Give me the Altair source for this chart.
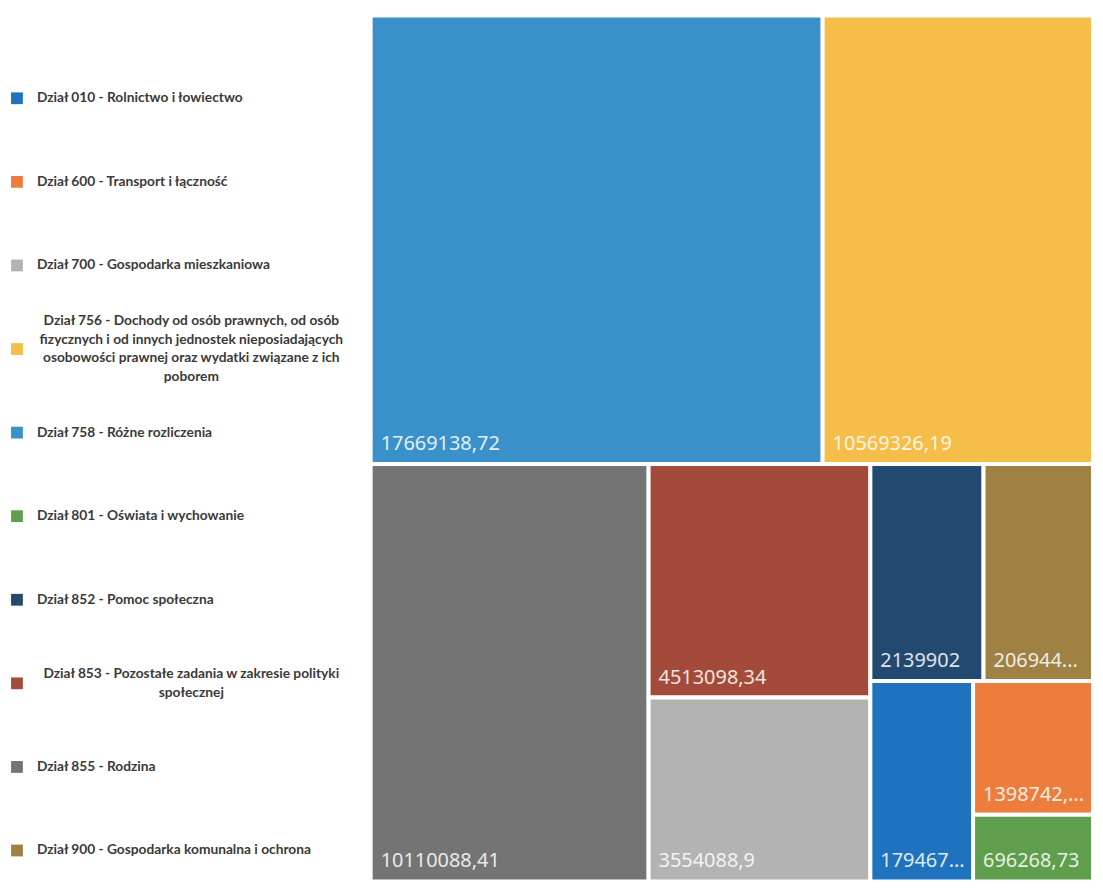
import altair as alt
import pandas as pd

# ---------------- data ----------------
codes = ["010", "600", "700", "756", "758", "801", "852", "853", "855", "900"]
legend_labels = [
    "Dział 010 - Rolnictwo i łowiectwo",
    "Dział 600 - Transport i łączność",
    "Dział 700 - Gospodarka mieszkaniowa",
    "Dział 756 - Dochody od osób prawnych, od osób\nfizycznych i od innych jednostek nieposiadających\nosobowości prawnej oraz wydatki związane z ich\npoborem",
    "Dział 758 - Różne rozliczenia",
    "Dział 801 - Oświata i wychowanie",
    "Dział 852 - Pomoc społeczna",
    "Dział 853 - Pozostałe zadania w zakresie polityki\nspołecznej",
    "Dział 855 - Rodzina",
    "Dział 900 - Gospodarka komunalna i ochrona",
]
values = [1794670.0, 1398742.5, 3554088.9, 10569326.19, 17669138.72,
          696268.73, 2139902.0, 4513098.34, 10110088.41, 2069440.0]
tile_labels = ["179467...", "1398742,...", "3554088,9", "10569326,19", "17669138,72",
               "696268,73", "2139902", "4513098,34", "10110088,41", "206944..."]
colors = ["#1F72BE", "#EC7D3D", "#B3B3B3", "#F5BE48", "#3A91CA",
          "#5F9E4C", "#22496F", "#A44A3A", "#747474", "#9E8143"]

# ---------------- panel sizes ----------------
LEG_W = 362
TM_W = 725
TM_H = 869
LINE_H = 19


# ---------------- squarified treemap layout ----------------
def worst(row, short):
    s = sum(row)
    return max(max(short * short * r / (s * s), (s * s) / (short * short * r)) for r in row)


def squarify(vals, x, y, w, h):
    total = sum(vals)
    areas = [v * w * h / total for v in vals]
    rects = []
    i = 0
    while i < len(areas):
        short = min(w, h)
        row = [areas[i]]
        j = i + 1
        while j < len(areas) and worst(row + [areas[j]], short) <= worst(row, short):
            row.append(areas[j])
            j += 1
        s = sum(row)
        if w >= h:
            cw = s / h
            yy = y
            for a in row:
                hh = a / cw
                rects.append((x, yy, x + cw, yy + hh))
                yy += hh
            x += cw
            w -= cw
        else:
            rh = s / w
            xx = x
            for a in row:
                ww = a / rh
                rects.append((xx, y, xx + ww, y + rh))
                xx += ww
            y += rh
            h -= rh
        i = j
    return rects


order = sorted(range(len(values)), key=lambda k: -values[k])
rects = squarify([values[k] for k in order], 0.0, 0.0, float(TM_W), float(TM_H))
rows = []
for k, r in zip(order, rects):
    rows.append({"code": codes[k], "value": values[k], "label": tile_labels[k],
                 "x0": r[0], "y0": r[1], "x1": r[2], "y1": r[3]})
tm_df = pd.DataFrame(rows)

leg_df = pd.DataFrame({
    "code": codes,
    "text": legend_labels,
    "nlines": [t.count("\n") + 1 for t in legend_labels],
})

color_scale = alt.Scale(domain=codes, range=colors)

# ---------------- treemap panel ----------------
xs = alt.Scale(domain=[0, TM_W], nice=False, zero=False)
ys = alt.Scale(domain=[0, TM_H], nice=False, zero=False, reverse=True)

tiles = alt.Chart(tm_df).mark_rect(stroke="white", strokeWidth=4).encode(
    x=alt.X("x0:Q", scale=xs, axis=None),
    x2="x1:Q",
    y=alt.Y("y0:Q", scale=ys, axis=None),
    y2="y1:Q",
    color=alt.Color("code:N", scale=color_scale, legend=None),
)

labels = alt.Chart(tm_df).mark_text(
    align="left", baseline="alphabetic", dx=10, dy=-14,
    font="Noto Sans", fontSize=20, color="white", opacity=0.85,
).encode(
    x=alt.X("x0:Q", scale=xs, axis=None),
    y=alt.Y("y1:Q", scale=ys, axis=None),
    text="label:N",
)

treemap = alt.layer(tiles, labels).properties(width=TM_W, height=TM_H)

# ---------------- legend panel ----------------
ly = alt.Scale(domain=codes, range=[83, 838], padding=0)

squares = alt.Chart(leg_df).mark_square(size=140, opacity=1).encode(
    x=alt.value(9),
    y=alt.Y("code:N", scale=ly, axis=None),
    color=alt.Color("code:N", scale=color_scale, legend=None),
)

single = alt.Chart(leg_df).transform_filter("datum.nlines == 1").mark_text(
    align="left", baseline="middle", font="Lato", fontSize=13.8, fontWeight="bold",
    color="#3a3a3a",
).encode(
    x=alt.value(29),
    y=alt.Y("code:N", scale=ly, axis=None),
    text="text:N",
)

multi_layers = []
for n in sorted(set(n for n in leg_df["nlines"] if n > 1)):
    multi_layers.append(
        alt.Chart(leg_df).transform_filter(f"datum.nlines == {n}").mark_text(
            align="center", baseline="middle", font="Lato", fontSize=13.8,
            fontWeight="bold", color="#3a3a3a", lineBreak="\n", lineHeight=LINE_H,
            dy=-(n - 1) * LINE_H / 2,
        ).encode(
            x=alt.value(184),
            y=alt.Y("code:N", scale=ly, axis=None),
            text="text:N",
        )
    )

legend = alt.layer(squares, single, *multi_layers).properties(width=LEG_W, height=TM_H)

chart = alt.hconcat(legend, treemap, spacing=0).properties(
    padding={"left": 0, "top": 4, "right": 0, "bottom": 0},
    background="white",
).configure_view(stroke=None)

chart.save("out.html", embed_options={"renderer": "svg", "actions": False})
